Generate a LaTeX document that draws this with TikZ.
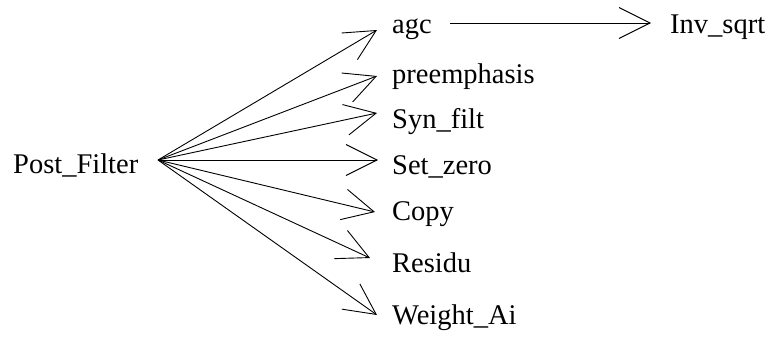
\documentclass[tikz,border=0pt]{standalone}
\usepackage{fontspec}
\setmainfont{Liberation Serif}
\usetikzlibrary{arrows.meta}
\begin{document}
\begin{tikzpicture}[x=1pt,y=-1pt,
  lbl/.style={anchor=base west, inner sep=0pt, font=\fontsize{28.5}{30}\selectfont},
  conn/.style={line width=0.9pt, -{Straight Barb[length=31pt,width=31pt]}}]
\useasboundingbox (0,0) rectangle (773,340);
\node[lbl] (pf) at (13,173) {Post\_Filter};
\node[lbl] (agc) at (392,33) {agc};
\node[lbl] (pre) at (392,83) {preemphasis};
\node[lbl] (syn) at (392,128) {Syn\_filt};
\node[lbl] (set) at (392,174) {Set\_zero};
\node[lbl] (cpy) at (392,220) {Copy};
\node[lbl] (res) at (392,272) {Residu};
\node[lbl] (wai) at (392,324) {Weight\_Ai};
\node[lbl] (inv) at (670,33) {Inv\_sqrt};
\coordinate (src) at (158,160);
\coordinate (tagc) at (377,30);
\coordinate (tpre) at (377,76);
\coordinate (tsyn) at (377,113);
\coordinate (tset) at (378,160);
\coordinate (tcpy) at (375,212);
\coordinate (tres) at (370,258);
\coordinate (twai) at (377,315);
\coordinate (agcout) at (450,23);
\coordinate (tinv) at (651,23);
\draw[conn] (src) -- (tagc);
\draw[conn] (src) -- (tpre);
\draw[conn] (src) -- (tsyn);
\draw[conn] (src) -- (tset);
\draw[conn] (src) -- (tcpy);
\draw[conn] (src) -- (tres);
\draw[conn] (src) -- (twai);
\draw[conn] (agcout) -- (tinv);
\end{tikzpicture}
\end{document}
